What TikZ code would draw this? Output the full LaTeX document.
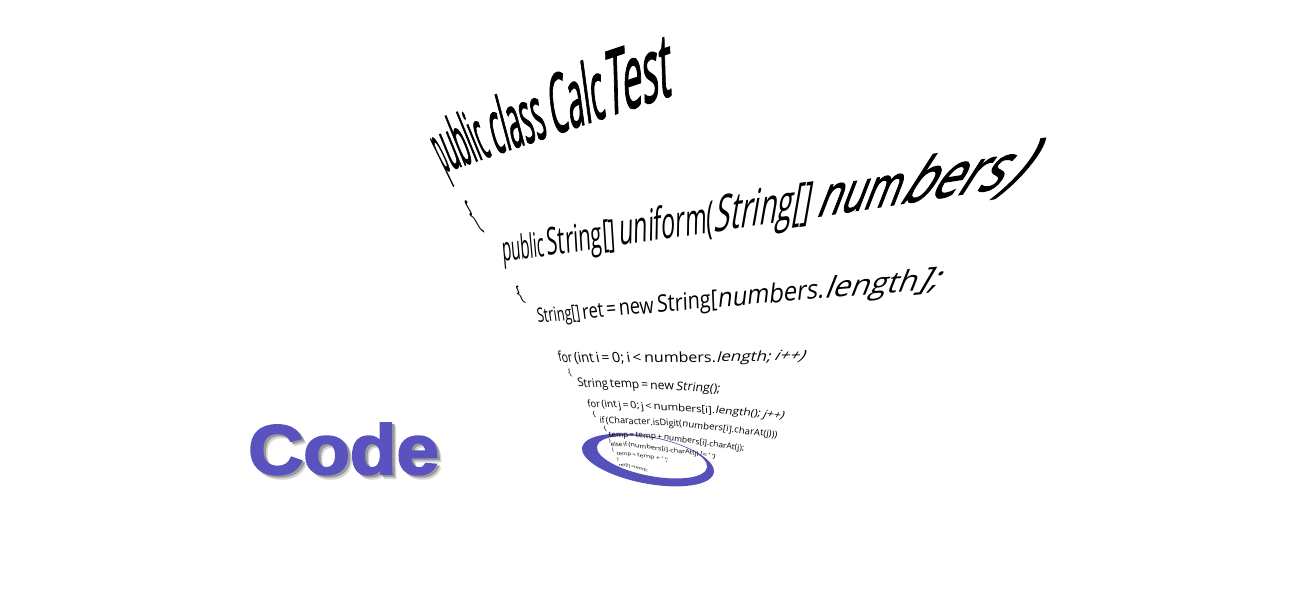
\documentclass[tikz,border=0pt]{standalone}
\usepackage{fontspec}
\setmainfont{Open Sans}
\newfontfamily\codefont[FakeBold=3,FakeStretch=1.09]{Liberation Sans Bold}
\newfontfamily\heavy[FakeBold=2]{Open Sans}
\definecolor{ringblue}{HTML}{5650BB}
\definecolor{codeblue}{HTML}{5A52BE}
\definecolor{codeshade}{HTML}{9A9A9A}
\definecolor{codesoft}{HTML}{D4D4D4}
\makeatletter
\newbox\wbox
\newdimen\wlen
\newcommand\wwidth[2]{\setbox\wbox=\hbox{\pgfinterruptpicture\fontsize{10}{12}\selectfont #2\endpgfinterruptpicture}\wlen=\wd\wbox\edef#1{\strip@pt\wlen}}
\newcounter{wchunk}
\def\ns{\gdef\wGap{0}}
\def\wLean{2.5}
\def\wK{0}
\newcommand\warpline[9]{\def\wN{#1}\def\wPax{#2}\def\wPay{#3}\def\wCx{#4}\def\wCy{#5}\def\wPbx{#6}\def\wPby{#7}\def\wUax{#8}\def\wUay{#9}\warplineB}
\newcommand\warplineB[4]{%
  \def\wUbx{#1}\def\wUby{#2}\def\wG{#3}%
  \wwidth\wSpA{\ }%
  \pgfmathsetmacro\wSp{0.6*\wSpA}%
  \gdef\wTot{0}%
  \foreach \c in {#4}{\global\let\wGap\wSp\wwidth\wW{\c}\pgfmathparse{\wTot+\wW+\wGap}\global\let\wTot\pgfmathresult}%
  \pgfmathsetmacro\wTotal{\wTot-\wGap}%
  \gdef\wPos{0}\setcounter{wchunk}{0}%
  \foreach \c in {#4}{%
    \stepcounter{wchunk}%
    \global\let\wGap\wSp
    \wwidth\wW{\c}%
    \pgfmathsetmacro\sa{\wPos/\wTotal}%
    \pgfmathsetmacro\sb{min(1,(\wPos+\wW)/\wTotal)}%
    \pgfmathsetmacro\ta{\sa^\wG-\wK*\sa^3*(1-\sa)}%
    \pgfmathsetmacro\tb{\sb^\wG-\wK*\sb^3*(1-\sb)}%
    \pgfmathsetmacro\tm{(\ta+\tb)/2}%
    \pgfmathsetmacro\xa{(1-\ta)^2*\wPax+2*(1-\ta)*\ta*\wCx+\ta^2*\wPbx}%
    \pgfmathsetmacro\ya{(1-\ta)^2*\wPay+2*(1-\ta)*\ta*\wCy+\ta^2*\wPby}%
    \pgfmathsetmacro\xb{(1-\tb)^2*\wPax+2*(1-\tb)*\tb*\wCx+\tb^2*\wPbx}%
    \pgfmathsetmacro\yb{(1-\tb)^2*\wPay+2*(1-\tb)*\tb*\wCy+\tb^2*\wPby}%
    \pgfmathsetmacro\ux{\wUax+(\wUbx-\wUax)*\tm^\wLean}%
    \pgfmathsetmacro\uy{\wUay+(\wUby-\wUay)*\tm}%
    \pgfmathsetmacro\ma{(\xb-\xa)/\wW}%
    \pgfmathsetmacro\mb{-(\yb-\ya)/\wW}%
    \pgfmathsetmacro\mc{\ux/10}%
    \pgfmathsetmacro\md{-\uy/10}%
    \pgfmathsetmacro\ty{600-\ya}%
    \global\let\wGapKeep\wGap
    \node[warp,cm={\ma,\mb,\mc,\md,(\xa,\ty)}] (\wN-\thewchunk) at (0,0) {\fontsize{10}{12}\selectfont\c};%
    \pgfmathparse{\wPos+\wW+\wGapKeep}\global\let\wPos\pgfmathresult
  }%
}
\makeatother
\tikzset{warp/.style={inner sep=0pt,outer sep=0pt,anchor=base west,transform shape,text=black},
  codetext/.style={inner sep=0pt,anchor=base west,font=\codefont\fontsize{70}{72}\selectfont}}
\begin{document}
\begin{tikzpicture}[x=1pt,y=1pt]
\useasboundingbox (0,0) rectangle (1300,600);
% ring
\fill[ringblue,even odd rule] (648,140) ellipse [x radius=67,y radius=23.5,rotate=-11]
   (652,143) ellipse [x radius=56,y radius=19,rotate=-11];
% lines
\def\wLean{1}\def\wK{0.27}
\warpline{a}{445}{172}{558}{133}{672}{95}{-30}{-60}{2}{-95}{1.3}{\heavy p\ns,\heavy ublic,\heavy class,\heavy Calc\ns,\heavy Test}
\def\wLean{2.5}\def\wK{0.75}
\warpline{b}{503}{262}{750}{228}{1015}{186}{-3}{-32}{60}{-70}{1.3}{public,String[],uniform(\ns,String[],\heavy num\ns,\heavy bers\ns,\heavy )}
\def\wK{0.45}
\warpline{c}{538}{323}{730}{306}{937}{289}{-3}{-19}{20}{-32}{1.27}{String[],ret,=,new,String[\ns,numbers.\ns,length\ns,];}
\def\wK{0}
\warpline{d}{559}{362}{680}{364}{803}{360}{-3}{-14}{11}{-14}{1.15}{for,{(int},i,=,{0;},i,<,numbers.\ns,length;,i++)}
\warpline{e}{578}{387}{650}{388}{720}{393}{-2}{-12}{4}{-12}{1.05}{String,temp,=,new,String();}
\warpline{f}{588}{407}{680}{410}{783}{419}{-2}{-10}{6}{-10}{1.05}{for,{(int},j,=,{0;},j,<,numbers[i].\ns,length();,j++)}
\warpline{g}{600}{423}{690}{424}{777}{438}{-1}{-9}{4}{-9}{1.05}{if,{(Character.isDigit(\ns},numbers[i].charAt(j)))}
\warpline{h}{609}{437}{680}{438}{744}{451}{-1}{-8}{3}{-8}{1.05}{temp,=,temp,+,numbers[i].charAt(j);}
\warpline{i}{611}{446}{660}{447}{715}{459}{-1}{-6}{2}{-6}{1.05}{else,if,{(numbers[i].charAt(j)},!=,' ')}
\warpline{j}{617}{455}{640}{456}{668}{462}{-1}{-5}{1}{-5}{1.05}{temp,=,temp,+,' ';}
\warpline{k}{619}{466}{635}{467}{648}{472}{-1}{-4}{1}{-4}{1.05}{ret[i],=temp;}
% braces
\warpline{ba}{475}{226}{478}{227}{482}{228}{-21}{-37}{-21}{-37}{1}{\{}
\warpline{bb}{519}{300}{522}{300}{525}{301}{-9}{-20}{-9}{-20}{1}{\{}
\warpline{bc}{569}{375}{570}{375}{572}{375}{-3}{-9}{-3}{-9}{1}{\{}
\warpline{bd}{593}{416}{594}{416}{596}{416}{-2}{-7}{-2}{-7}{1}{\{}
\warpline{be}{604}{430}{605}{430}{607}{430}{-2}{-6}{-2}{-6}{1}{\{}
\warpline{bf}{609}{442}{610}{442}{611}{442}{-1}{-5}{-1}{-5}{1}{\}}
\warpline{bg}{612}{451}{613}{451}{614}{451}{-1}{-5}{-1}{-5}{1}{\{}
\warpline{bh}{617}{460}{618}{460}{619}{460}{-1}{-4}{-1}{-4}{1}{\}}
% Code
\node[codetext,text=codesoft] (codesoftshadow) at (252,122) {Code};
\node[codetext,text=codeshade] (codeshadow) at (250.5,124) {Code};
\node[codetext,text=codeblue] (code) at (248,126) {Code};
\end{tikzpicture}
\end{document}
